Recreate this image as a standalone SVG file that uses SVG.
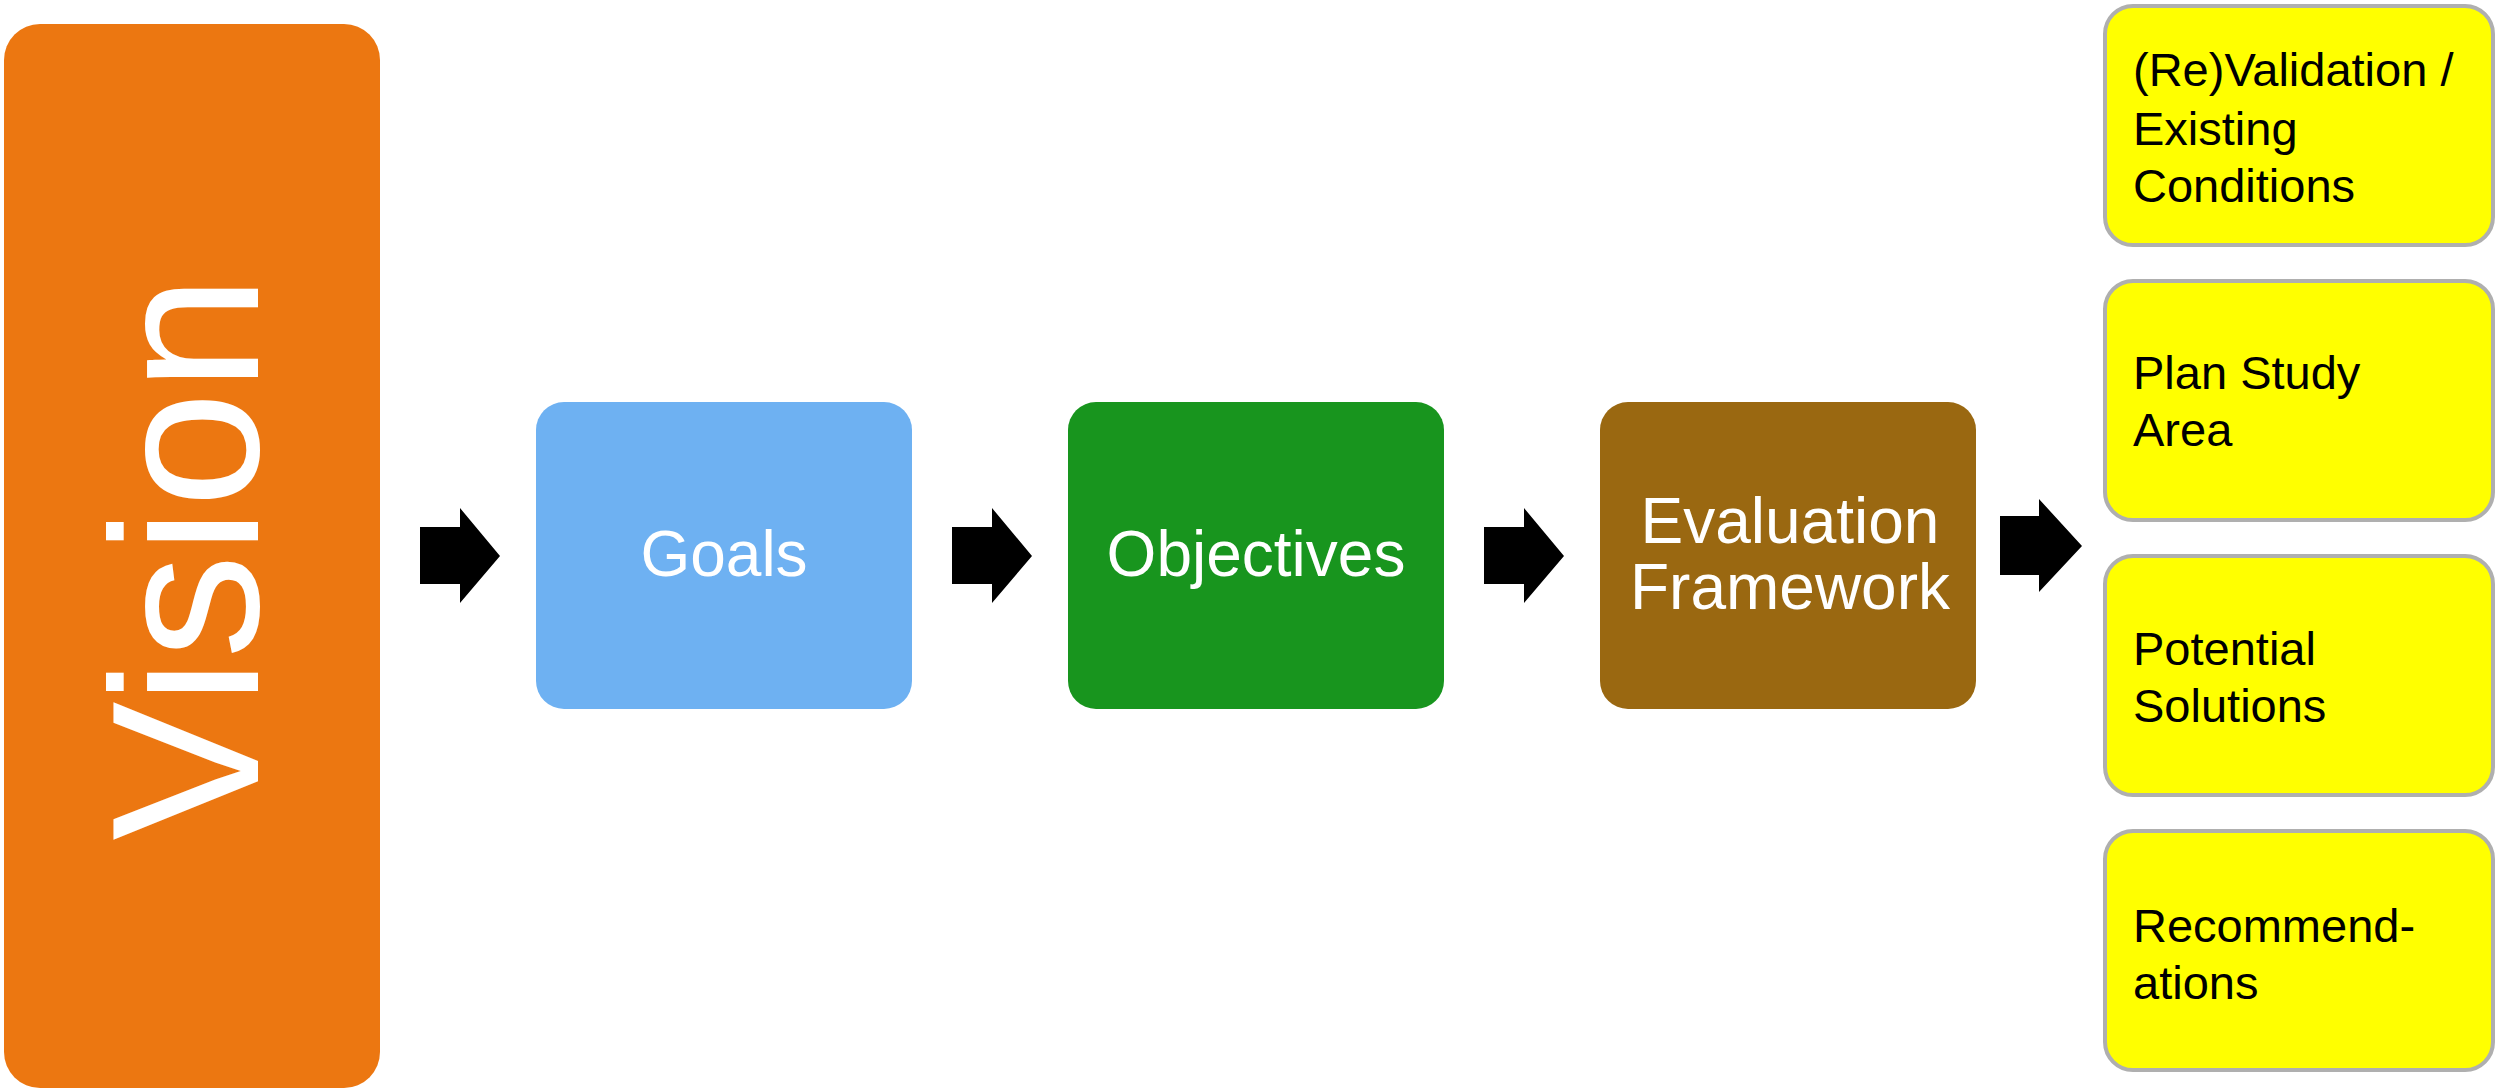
<svg xmlns="http://www.w3.org/2000/svg" width="2496" height="1088" viewBox="0 0 2496 1088">
<style>
.lbl{font-family:"Liberation Sans",Arial,sans-serif;fill:#fff;font-size:64px;text-anchor:middle}
.ylw{fill:#FFFF00;stroke:#AFAFAF;stroke-width:4}
.ytx{font-family:"Liberation Sans",Arial,sans-serif;fill:#000;font-size:47px}
.arr{fill:#000}
</style>
<rect width="2496" height="1088" fill="#fff"/>
<g id="vision">
<rect x="4" y="24" width="376" height="1064" rx="36" fill="#EC7711"/>
<text class="lbl" x="258" y="558" transform="rotate(-90 258 558)" style="font-size:209px">Vision</text>
</g>
<g id="goals">
<rect x="536" y="402" width="376" height="307" rx="28" fill="#6EB1F2"/>
<text class="lbl" x="724" y="576">Goals</text>
</g>
<g id="objectives">
<rect x="1068" y="402" width="376" height="307" rx="28" fill="#18951E"/>
<text class="lbl" x="1256" y="576">Objectives</text>
</g>
<g id="evaluation">
<rect x="1600" y="402" width="376" height="307" rx="28" fill="#9A6811"/>
<text class="lbl" x="1790" y="543">Evaluation</text>
<text class="lbl" x="1790" y="609">Framework</text>
</g>
<g id="revalidation">
<rect class="ylw" x="2105" y="6" width="388" height="239" rx="28"/>
<text class="ytx" x="2133" y="86">(Re)Validation /</text>
<text class="ytx" x="2133" y="145">Existing</text>
<text class="ytx" x="2133" y="202">Conditions</text>
</g>
<g id="planstudy">
<rect class="ylw" x="2105" y="281" width="388" height="239" rx="28"/>
<text class="ytx" x="2133" y="389">Plan Study</text>
<text class="ytx" x="2133" y="446">Area</text>
</g>
<g id="solutions">
<rect class="ylw" x="2105" y="556" width="388" height="239" rx="28"/>
<text class="ytx" x="2133" y="665">Potential</text>
<text class="ytx" x="2133" y="722">Solutions</text>
</g>
<g id="recommendations">
<rect class="ylw" x="2105" y="831" width="388" height="239" rx="28"/>
<text class="ytx" x="2133" y="942">Recommend-</text>
<text class="ytx" x="2133" y="999">ations</text>
</g>
<g id="connectors">
<polygon class="arr" points="420,527 460,527 460,508 500,556 460,603 460,584 420,584"/>
<polygon class="arr" points="952,527 992,527 992,508 1032,556 992,603 992,584 952,584"/>
<polygon class="arr" points="1484,527 1524,527 1524,508 1564,556 1524,603 1524,584 1484,584"/>
<polygon class="arr" points="2000,516 2039,516 2039,499 2082,546 2039,592 2039,575 2000,575"/>
</g>
</svg>
